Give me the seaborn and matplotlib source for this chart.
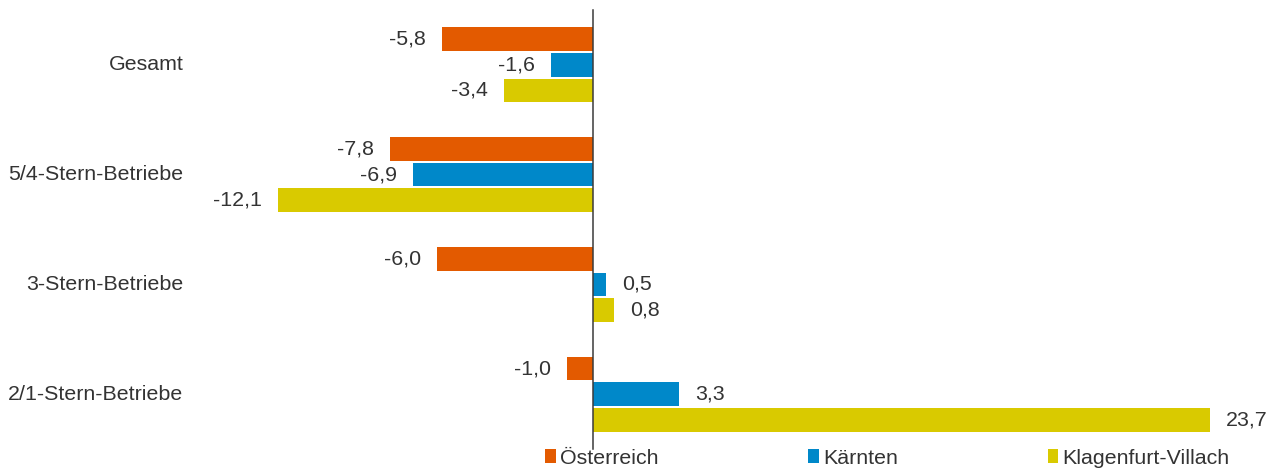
import pandas as pd
import seaborn as sns
import matplotlib.pyplot as plt
import matplotlib.transforms as mtransforms

categories = ["Gesamt", "5/4-Stern-Betriebe", "3-Stern-Betriebe", "2/1-Stern-Betriebe"]
regions = ["Österreich", "Kärnten", "Klagenfurt-Villach"]
oesterreich = [-5.8, -7.8, -6.0, -1.0]
kaernten = [-1.6, -6.9, 0.5, 3.3]
klagenfurt = [-3.4, -12.1, 0.8, 23.7]
colors = ["#E35A00", "#0088C9", "#D9CA00"]

text_color = "#333333"
axis_color = "#3A3A3A"


def get_frame():
    rows = []
    for reg, vals in zip(regions, [oesterreich, kaernten, klagenfurt]):
        for cat, v in zip(categories, vals):
            rows.append({"category": cat, "region": reg, "value": v})
    return pd.DataFrame(rows)


def fmt(v):
    return f"{v:.1f}".replace(".", ",")


def makeplot(df):
    sns.set_style("white")
    plt.rcParams["font.family"] = ["Liberation Sans", "DejaVu Sans"]
    plt.rcParams["font.size"] = 15.4
    plt.rcParams["text.color"] = text_color

    fig = plt.figure(figsize=(12.76, 4.74), dpi=100)
    ax = fig.add_axes([202.3 / 1276, 1 - 449 / 474, 1041.5 / 1276, 439 / 474])

    sns.barplot(data=df, x="value", y="category", hue="region",
                order=categories, hue_order=regions, palette=colors,
                saturation=1, orient="h", width=0.7, gap=0.08,
                linewidth=0, ax=ax)

    ax.set_xlim(-15, 25)
    ax.set_ylim(3.5, -0.5)

    # value labels
    for cont, vals in zip(ax.containers, [oesterreich, kaernten, klagenfurt]):
        ax.bar_label(cont, labels=[fmt(v) for v in vals], padding=11.5,
                     fontsize=15.4, color=text_color)

    # axis at zero with boundary ticks
    for s in ["top", "right", "bottom"]:
        ax.spines[s].set_visible(False)
    ax.spines["left"].set_position(("data", 0))
    ax.spines["left"].set_color(axis_color)
    ax.spines["left"].set_linewidth(1.1)
    ax.set_xticks([])
    ax.set_yticks(range(len(categories)))
    ax.set_yticklabels([])
    ax.tick_params(axis="y", which="major", length=0)
    ax.set_yticks([i - 0.5 for i in range(len(categories) + 1)], minor=True)
    ax.tick_params(axis="y", which="minor", length=4.5, width=1.1,
                   color=axis_color, direction="out")
    ax.set_xlabel("")
    ax.set_ylabel("")

    # category labels on the left
    trans = mtransforms.blended_transform_factory(ax.transAxes, ax.transData)
    for i, cat in enumerate(categories):
        ax.text(-0.018, i, cat, transform=trans, ha="right", va="center",
                fontsize=15.4, color=text_color)

    sns.move_legend(ax, loc="center left",
                    bbox_to_anchor=(545 / 1276, 1 - 458 / 474),
                    bbox_transform=fig.transFigure, ncol=3, frameon=False,
                    title=None, handlelength=0.5, handleheight=0.6,
                    handletextpad=0.2, columnspacing=7.0, borderpad=0,
                    borderaxespad=0, fontsize=15.4)

    fig.savefig("out.png", dpi=100)
    return fig


if __name__ == "__main__":
    frame = get_frame()
    makeplot(frame)
